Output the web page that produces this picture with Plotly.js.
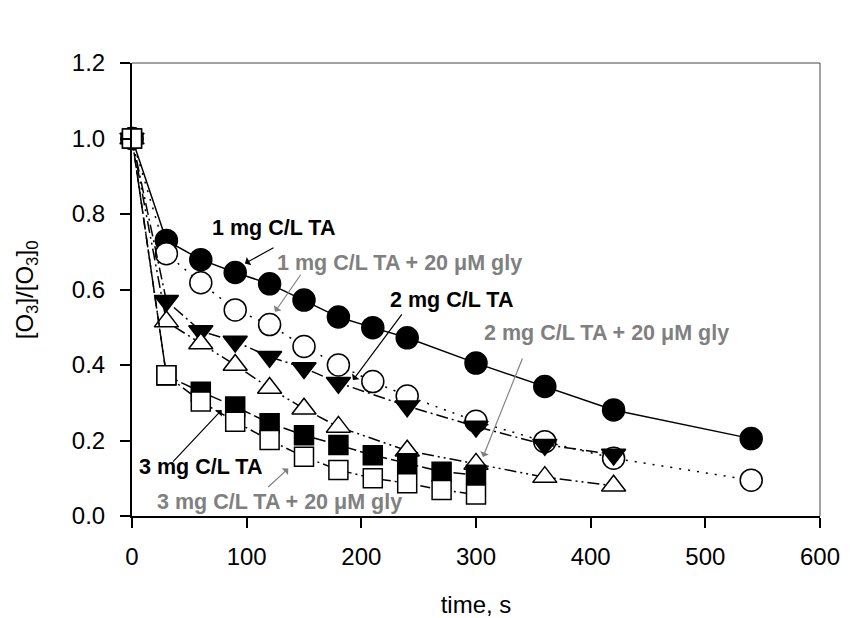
<!DOCTYPE html>
<html>
<head>
<meta charset="utf-8">
<script src="https://cdn.plot.ly/plotly-3.0.1.min.js"></script>
<style>html,body{margin:0;padding:0;background:#fff;}#chart{width:858px;height:618px;}</style>
</head>
<body>
<div id="chart"></div>
<script>
// Data
const t1 = [0, 30, 60, 90, 120, 150, 180, 210, 240, 300, 360, 420, 540];
const ta1 = [1.0, 0.730, 0.679, 0.645, 0.615, 0.572, 0.527, 0.499, 0.472, 0.405, 0.343, 0.281, 0.205];
const ta1gly = [1.0, 0.695, 0.618, 0.546, 0.507, 0.449, 0.400, 0.356, 0.318, 0.251, 0.197, 0.153, 0.095];

const t2 = [0, 30, 60, 90, 120, 150, 180, 240, 300, 360, 420];
const ta2 = [1.0, 0.570, 0.490, 0.462, 0.422, 0.392, 0.353, 0.291, 0.237, 0.189, 0.163];
const ta2gly = [1.0, 0.515, 0.457, 0.400, 0.339, 0.284, 0.236, 0.173, 0.138, 0.103, 0.080];

const t3 = [0, 30, 60, 90, 120, 150, 180, 210, 240, 270, 300];
const ta3 = [1.0, 0.372, 0.329, 0.290, 0.246, 0.214, 0.188, 0.161, 0.140, 0.117, 0.109];
const ta3gly = [1.0, 0.373, 0.303, 0.250, 0.201, 0.157, 0.122, 0.100, 0.087, 0.069, 0.057];

const labels = ["1 mg C/L TA", "1 mg C/L TA + 20 \u03BCM gly", "2 mg C/L TA",
                "2 mg C/L TA + 20 \u03BCM gly", "3 mg C/L TA", "3 mg C/L TA + 20 \u03BCM gly"];

const xTicks = [0, 100, 200, 300, 400, 500, 600];
const yTicks = [0.0, 0.2, 0.4, 0.6, 0.8, 1.0, 1.2];
const xTitle = 'time, s';
const yTitle = '[O<sub>3</sub>]/[O<sub>3</sub>]<sub>0</sub>';

function tr(x, y, name, sym, fill, dash, size) {
  return {
    x: x, y: y, name: name, type: 'scatter', mode: 'lines+markers',
    line: {color: '#000', width: 1.5, dash: dash},
    marker: {symbol: sym, size: size, color: fill, line: {color: '#000', width: 1.5}},
    cliponaxis: false
  };
}

const data = [
  tr(t1, ta1, labels[0], 'circle', '#000', 'solid', 22),
  tr(t1, ta1gly, labels[1], 'circle', '#fff', '2px,7px', 22),
  tr(t2, ta2, labels[2], 'triangle-down', '#000', '12px,4px,2px,4px', 21),
  tr(t2, ta2gly, labels[3], 'triangle-up', '#fff', '12px,4px,2px,4px,2px,4px', 21),
  tr(t3, ta3, labels[4], 'square', '#000', '12px,4px', 19),
  tr(t3, ta3gly, labels[5], 'square', '#fff', '10px,4px,2px,4px', 19)
];

const black = '#000', gray = '#808080';
const FAM = 'Liberation Sans, Arial, sans-serif';
const fontB = (c) => ({family: FAM, size: 21.5, color: c, weight: 'bold'});

function txt(text, x, y, c) {
  return {text: '<b>' + text + '</b>', x: x, y: y, xref: 'x', yref: 'y', showarrow: false,
          font: fontB(c), xanchor: 'center', yanchor: 'middle'};
}
function arr(hx, hy, tx, ty, c) {
  return {text: '', x: hx, y: hy, ax: tx, ay: ty, xref: 'x', yref: 'y', axref: 'x', ayref: 'y',
          showarrow: true, arrowhead: 1, arrowsize: 1.3, arrowwidth: 1.2, arrowcolor: c, standoff: 0};
}

const annotations = [
  txt(labels[0], 123, 0.763, black),
  txt(labels[1], 233.7, 0.670, gray),
  txt(labels[2], 278.6, 0.572, black),
  txt(labels[3], 414, 0.485, gray),
  txt(labels[4], 59.9, 0.131, black),
  txt(labels[5], 128.6, 0.038, gray),
  arr(98.5, 0.669, 124.7, 0.713, black),
  arr(124.7, 0.541, 148, 0.643, gray),
  arr(192.7, 0.360, 236.3, 0.538, black),
  arr(306, 0.156, 341, 0.421, gray),
  arr(78.2, 0.281, 34.6, 0.140, black),
  arr(136.3, 0.126, 117.5, 0.073, gray),
  {text: yTitle, xref: 'paper', yref: 'paper', x: -0.153, y: 0.5, textangle: -90,
   showarrow: false, xanchor: 'center', yanchor: 'middle', font: {family: FAM, size: 24, color: '#000'}}
];

const layout = {
  width: 858, height: 618,
  margin: {l: 132, r: 38, t: 63, b: 102},
  paper_bgcolor: '#fff', plot_bgcolor: '#fff',
  showlegend: false,
  font: {family: FAM, size: 24, color: '#000'},
  xaxis: {
    range: [0, 600], tickvals: xTicks, ticktext: xTicks.map(String),
    showgrid: false, zeroline: false, showline: true, linecolor: '#000', linewidth: 2,
    ticks: 'outside', ticklen: 10, tickwidth: 2, tickcolor: '#000',
    ticklabelstandoff: 8,
    tickfont: {size: 24},
    title: {text: xTitle, font: {size: 24}, standoff: 30}
  },
  yaxis: {
    range: [0, 1.2], tickvals: yTicks, ticktext: yTicks.map(v => v.toFixed(1)),
    showgrid: false, zeroline: false, showline: true, linecolor: '#000', linewidth: 2,
    ticks: 'outside', ticklen: 10, tickwidth: 2, tickcolor: '#000',
    ticklabelstandoff: 10,
    tickfont: {size: 24}
  },
  shapes: [
    {type: 'line', xref: 'paper', yref: 'paper', x0: 0, x1: 1, y0: 1, y1: 1, line: {color: '#444', width: 1}, layer: 'below'},
    {type: 'line', xref: 'paper', yref: 'paper', x0: 1, x1: 1, y0: 0, y1: 1, line: {color: '#444', width: 1}, layer: 'below'}
  ],
  annotations: annotations
};

Plotly.newPlot('chart', data, layout, {displayModeBar: false, staticPlot: true});
</script>
</body>
</html>
